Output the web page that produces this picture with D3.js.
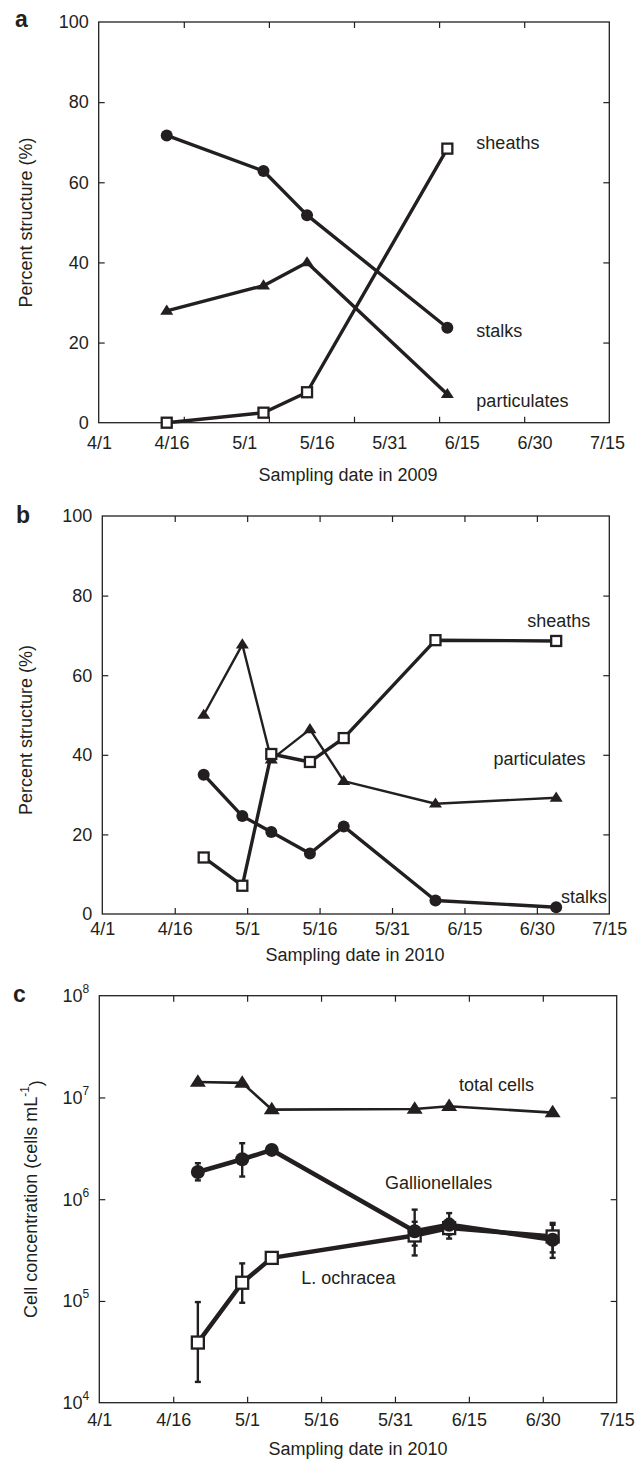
<!DOCTYPE html>
<html lang="en">
<head>
<meta charset="UTF-8">
<title>Structures and cell concentrations</title>
<style>
  body { margin: 0; background: #fff; }
  svg { display: block; font-family: "Liberation Sans", Arial, sans-serif; }
  text { fill: #231f20; }
</style>
</head>
<body>
<div id="chart"></div>
<script src="https://d3js.org/d3.v7.min.js"></script>
<script>
// ---- data ----
const xTickLabels = ["4/1", "4/16", "5/1", "5/16", "5/31", "6/15", "6/30", "7/15"];
const pctTicks = [0, 20, 40, 60, 80, 100];
const logTicks = [1e4, 1e5, 1e6, 1e7, 1e8];

// panel a, 2009
const datesA = ["4/15", "5/5", "5/14", "6/12"];
const stalksA = [71.7, 62.8, 51.8, 23.7];
const particulatesA = [27.9, 34.2, 40.0, 7.1];
const sheathsA = [0, 2.5, 7.6, 68.4];

// panel b, 2010
const datesB = ["4/22", "4/30", "5/6", "5/14", "5/21", "6/9", "7/4"];
const sheathsB = [14.2, 7.1, 40.2, 38.2, 44.2, 68.8, 68.6];
const particulatesB = [50.0, 67.7, 38.8, 46.4, 33.4, 27.7, 29.2];
const stalksB = [35.0, 24.6, 20.6, 15.2, 22.0, 3.4, 1.7];

// panel c, 2010 (cells per mL)
const datesC = ["4/21", "4/30", "5/6", "6/4", "6/11", "7/2"];
const totalCells = [1.42e7, 1.39e7, 7.6e6, 7.7e6, 8.2e6, 7.1e6];
const gallionellales = [1.85e6, 2.47e6, 3.05e6, 4.84e5, 5.6e5, 4.0e5];
const gallLow = [1.53e6, 1.67e6, null, 3.5e5, 4.5e5, 2.65e5];
const gallHigh = [2.26e6, 3.55e6, null, 7.9e5, 7.3e5, 5.85e5];
const ochracea = [3.9e4, 1.51e5, 2.65e5, 4.4e5, 5.2e5, 4.3e5];
const ochLow = [1.6e4, 9.6e4, null, 2.8e5, 4.1e5, 3.0e5];
const ochHigh = [9.75e4, 2.34e5, null, 6.0e5, 6.4e5, 5.6e5];

const ink = "#231f20";
const parse = d3.timeParse("%m/%d");

const svg = d3.select("#chart").append("svg")
  .attr("width", 636)
  .attr("height", 1461);

// marker shapes
function marker(g, shape, size) {
  if (shape === "circle") {
    g.append("circle").attr("r", size).attr("fill", ink);
  } else if (shape === "square") {
    g.append("rect").attr("x", -size / 2).attr("y", -size / 2)
      .attr("width", size).attr("height", size)
      .attr("fill", "#fff").attr("stroke", ink).attr("stroke-width", 2.3);
  } else {
    const w = size, h = size * 0.78;
    g.append("path")
      .attr("d", `M0,${-h * 0.62}L${w / 2},${h * 0.38}L${-w / 2},${h * 0.38}Z`)
      .attr("fill", ink);
  }
}

function drawPanel(p) {
  const g = svg.append("g");
  const x = d3.scaleTime()
    .domain([parse("4/1"), parse("7/15")])
    .range([p.x0, p.x1]);
  const y = p.log
    ? d3.scaleLog().domain([1e4, 1e8]).range([p.bottom, p.top])
    : d3.scaleLinear().domain([0, 100]).range([p.bottom, p.top]);

  // frame
  g.append("rect")
    .attr("x", p.left).attr("y", p.top)
    .attr("width", p.right - p.left).attr("height", p.bottom - p.top)
    .attr("fill", "none").attr("stroke", ink).attr("stroke-width", 1.3);

  // x tick marks (inward, top and bottom)
  const markDates = p.markDates || xTickLabels.map(parse);
  const inner = markDates.filter(d => x(d) > p.left + 2 && x(d) < p.right - 2);
  [["bottom", p.bottom, d3.axisBottom], ["top", p.top, d3.axisTop]].forEach(([k, yy, ax]) => {
    g.append("g")
      .attr("transform", `translate(0,${yy})`)
      .call(ax(x).tickValues(inner).tickSize(-6).tickFormat(""))
      .call(a => a.select(".domain").remove())
      .call(a => a.selectAll("line").attr("stroke", ink).attr("stroke-width", 1.2));
  });

  // x tick labels
  g.append("g")
    .attr("transform", `translate(0,${p.bottom})`)
    .call(d3.axisBottom(x).tickValues(xTickLabels.map(parse)).tickSize(0)
      .tickPadding(p.xPad).tickFormat(d3.timeFormat("%-m/%-d")))
    .call(a => a.select(".domain").remove())
    .call(a => a.selectAll("text").attr("font-size", 18).attr("fill", ink)
      .attr("font-family", "Liberation Sans, Arial, sans-serif"));

  // y ticks (inward, left and right)
  const yTicks = p.log ? logTicks : pctTicks;
  const yInner = yTicks.slice(1, -1);
  [[p.left, d3.axisLeft], [p.right, d3.axisRight]].forEach(([xx, ax]) => {
    g.append("g")
      .attr("transform", `translate(${xx},0)`)
      .call(ax(y).tickValues(yInner).tickSize(-6).tickFormat(""))
      .call(a => a.select(".domain").remove())
      .call(a => a.selectAll("line").attr("stroke", ink).attr("stroke-width", 1.2));
  });

  // y tick labels
  const yl = g.append("g").attr("font-size", 18).attr("text-anchor", "end");
  yTicks.forEach(v => {
    const t = yl.append("text")
      .attr("x", p.left - 10)
      .attr("y", y(v))
      .attr("dy", "0.35em");
    if (p.log) {
      t.append("tspan").text("10");
      t.append("tspan").attr("font-size", 12).attr("dy", "-0.75em")
        .text(Math.round(Math.log10(v)));
    } else {
      t.text(v);
    }
  });

  // axis titles
  g.append("text")
    .attr("x", p.xTitle[0]).attr("y", p.xTitle[1])
    .attr("text-anchor", "middle").attr("font-size", 18)
    .text(p.xLabel);
  const yt = g.append("text")
    .attr("transform", `translate(${p.yTitle[0]},${p.yTitle[1]}) rotate(-90)`)
    .attr("text-anchor", "middle").attr("dy", "0.35em").attr("font-size", 18);
  if (p.log) {
    yt.append("tspan").text("Cell concentration (cells mL");
    yt.append("tspan").attr("font-size", 12).attr("dy", "-0.7em").text("-1");
    yt.append("tspan").attr("dy", "0.7em").text(")");
  } else {
    yt.text(p.yLabel);
  }

  // panel letter
  g.append("text")
    .attr("x", p.letter[1]).attr("y", p.letter[2])
    .attr("font-size", 23).attr("font-weight", "bold")
    .text(p.letter[0]);

  // series
  p.series.forEach(s => {
    const pts = p.dates.map((d, i) => ({
      x: x(parse(d)), y: y(s.values[i]),
      lo: s.low ? s.low[i] : null, hi: s.high ? s.high[i] : null
    }));
    if (s.low) {
      pts.filter(d => d.lo != null).forEach(d => {
        const eb = g.append("g").attr("stroke", ink).attr("stroke-width", 2.4);
        eb.append("line").attr("x1", d.x).attr("x2", d.x).attr("y1", y(d.lo)).attr("y2", y(d.hi));
        eb.append("line").attr("x1", d.x - 3).attr("x2", d.x + 3).attr("y1", y(d.lo)).attr("y2", y(d.lo));
        eb.append("line").attr("x1", d.x - 3).attr("x2", d.x + 3).attr("y1", y(d.hi)).attr("y2", y(d.hi));
      });
    }
    g.append("path")
      .datum(pts)
      .attr("fill", "none")
      .attr("stroke", ink)
      .attr("stroke-width", s.width)
      .attr("stroke-linejoin", "round")
      .attr("d", d3.line().x(d => d.x).y(d => d.y));
    s.pts = pts;
  });
  p.series.forEach(s => {
    s.pts.forEach(d => {
      const m = g.append("g").attr("transform", `translate(${d.x},${d.y})`);
      marker(m, s.shape, s.size);
    });
  });

  // series annotations
  p.notes.forEach(n => {
    g.append("text")
      .attr("x", x(parse(n[1])))
      .attr("y", y(n[2]))
      .attr("dy", "0.35em")
      .attr("font-size", 18)
      .text(n[0]);
  });
}

// panel a: tick marks split the axis into six parts
const leftA = 98.7, rightA = 609.3;
const xA = d3.scaleTime().domain([parse("4/1"), parse("7/15")]).range([99, 607]);
const marksA = d3.range(1, 6).map(k => xA.invert(leftA + k * (rightA - leftA) / 6));

drawPanel({
  left: leftA, right: rightA, top: 22, bottom: 422.7, x0: 99, x1: 607,
  xPad: 14, markDates: marksA,
  letter: ["a", 15, 27], xLabel: "Sampling date in 2009", xTitle: [348, 481],
  yLabel: "Percent structure (%)", yTitle: [26, 222.5],
  dates: datesA,
  series: [
    { values: stalksA, shape: "circle", size: 6, width: 3.4 },
    { values: particulatesA, shape: "triangle", size: 13, width: 3.4 },
    { values: sheathsA, shape: "square", size: 10, width: 3.4 }
  ],
  notes: [["sheaths", "6/18", 70], ["stalks", "6/18", 22.9], ["particulates", "6/18", 5.4]]
});

drawPanel({
  left: 102.3, right: 609.3, top: 516, bottom: 914, x0: 102.3, x1: 609.3,
  xPad: 8,
  letter: ["b", 16, 523], xLabel: "Sampling date in 2010", xTitle: [355, 961],
  yLabel: "Percent structure (%)", yTitle: [26, 730],
  dates: datesB,
  series: [
    { values: particulatesB, shape: "triangle", size: 13, width: 2.4 },
    { values: stalksB, shape: "circle", size: 6, width: 3.4 },
    { values: sheathsB, shape: "square", size: 10, width: 3.4 }
  ],
  notes: [["sheaths", "6/28", 73.7], ["particulates", "6/21", 38.9], ["stalks", "7/5", 4.4]]
});

drawPanel({
  left: 99.3, right: 616.7, top: 995.7, bottom: 1402.7, x0: 99.3, x1: 616.7,
  xPad: 11, log: true,
  letter: ["c", 13, 1002], xLabel: "Sampling date in 2010", xTitle: [358, 1455],
  yTitle: [31, 1199],
  dates: datesC,
  series: [
    { values: totalCells, shape: "triangle", size: 16, width: 2.6 },
    { values: ochracea, low: ochLow, high: ochHigh, shape: "square", size: 12, width: 4.5 },
    { values: gallionellales, low: gallLow, high: gallHigh, shape: "circle", size: 7, width: 4.5 }
  ],
  notes: [["total cells", "6/13", 1.32e7], ["Gallionellales", "5/29", 1.45e6], ["L. ochracea", "5/12", 1.7e5]]
});
</script>
</body>
</html>
